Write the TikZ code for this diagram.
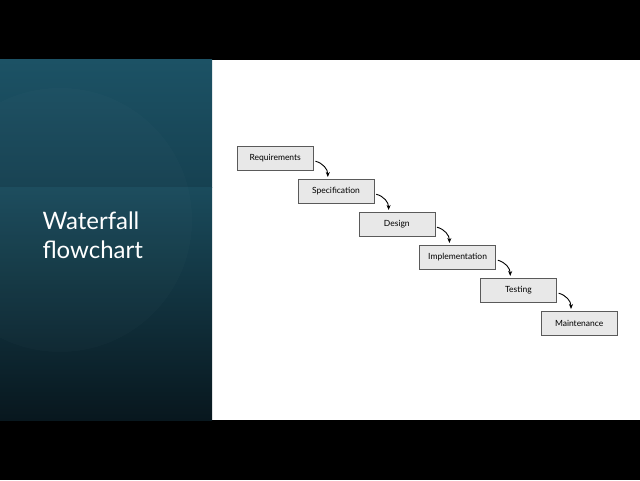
\documentclass[tikz,border=0pt]{standalone}
\usepackage{fontspec}
\setmainfont{Lato}
\usetikzlibrary{positioning,arrows.meta}
\definecolor{panelhi}{HTML}{1C5265}
\definecolor{panelmid}{HTML}{164151}
\definecolor{panelband}{HTML}{1A4B5C}
\definecolor{panellow}{HTML}{08171E}
\definecolor{boxfill}{HTML}{E8E8E8}
\definecolor{boxline}{HTML}{5A5A5A}
\tikzset{
  phase/.style={draw=boxline, fill=boxfill, minimum width=76pt, minimum height=24pt,
    inner sep=0pt, font=\fontsize{8.5}{10}\selectfont, text=black},
  flow/.style={-{Stealth[length=5pt,width=4pt]}, line width=0.9pt, black}
}
\begin{document}
\begin{tikzpicture}[x=1pt,y=1pt]
\useasboundingbox (0,0) rectangle (640,480);
\fill[black] (0,0) rectangle (640,480);
\fill[white] (212,60) rectangle (640,420);
% left panel
\shade[top color=panelhi, bottom color=panelmid] (0,292) rectangle (212,420);
\shade[top color=panelband, bottom color=panellow] (0,60) rectangle (212,292);
\begin{scope}
\clip (0,60) rectangle (212,420);
\fill[white, opacity=0.015] (60,260) circle (132);
\end{scope}
\node[anchor=base west, align=left, text=white, font=\fontsize{24}{28}\selectfont] (title) at (39,222) {Waterfall\\flowchart};
% phases
\node[phase, anchor=north west] (req) at (237,334) {Requirements};
\node[phase, below right=8.6pt and -15.6pt of req] (spec) {Specification};
\node[phase, below right=8.6pt and -15.6pt of spec] (des) {Design};
\node[phase, below right=8.6pt and -15.6pt of des] (impl) {Implementation};
\node[phase, below right=8.6pt and -15.6pt of impl] (test) {Testing};
\node[phase, below right=8.6pt and -15.6pt of test] (maint) {Maintenance};
% arrows
\foreach \a/\b in {req/spec, spec/des, des/impl, impl/test, test/maint}
  \draw[flow] ([shift={(2pt,-3pt)}]\a.east) to[out=-15, in=90] ([shift={(30pt,2pt)}]\b.north west);
\end{tikzpicture}
\end{document}
